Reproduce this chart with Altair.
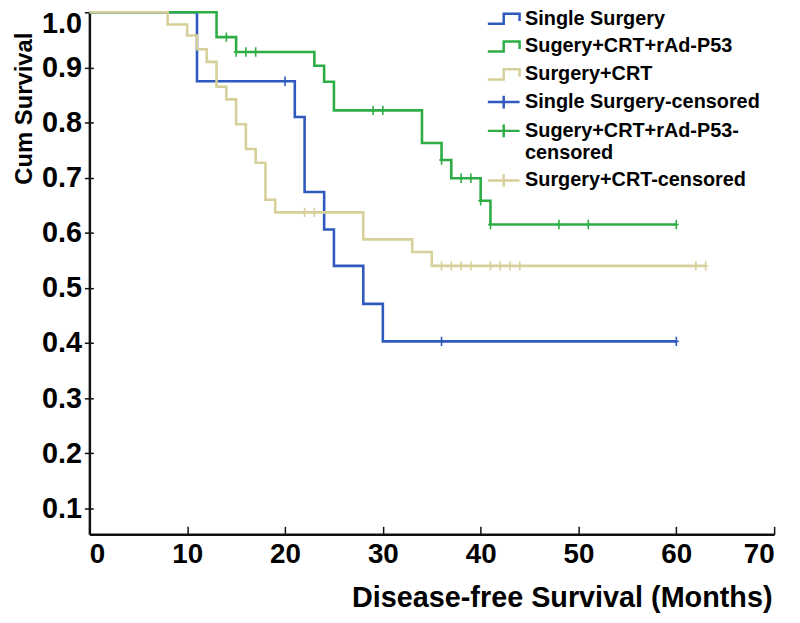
import altair as alt
import pandas as pd

# ---------------- data ----------------
groups = ["Single Surgery", "Sugery+CRT+rAd-P53", "Surgery+CRT"]
colors = ["#2f59be", "#2ead45", "#d8d09a"]

ss_time = [0, 11, 21, 22, 24, 25, 28, 30, 60]
ss_surv = [1.0, 0.875, 0.81, 0.674, 0.606, 0.54, 0.471, 0.403, 0.403]
ss_cens_time = [20, 36, 60]
ss_cens_surv = [0.875, 0.403, 0.403]

gp_time = [0, 13, 15, 23, 24, 25, 34, 36, 37, 40, 41, 60]
gp_surv = [1.0, 0.955, 0.928, 0.903, 0.874, 0.822, 0.763, 0.732, 0.699, 0.658, 0.615, 0.615]
gp_cens_time = [14, 15, 16, 17, 29, 30, 36, 38, 39, 40, 41, 48, 51, 60]
gp_cens_surv = [0.955, 0.928, 0.928, 0.928, 0.822, 0.822, 0.732, 0.699, 0.699, 0.658,
                0.615, 0.615, 0.615, 0.615]

sc_time = [0, 8, 10, 11, 12, 13, 14, 15, 16, 17, 18, 19, 28, 33, 35, 63]
sc_surv = [1.0, 0.978, 0.958, 0.933, 0.91, 0.865, 0.842, 0.797, 0.752, 0.727, 0.66, 0.637,
           0.588, 0.565, 0.54, 0.54]
sc_cens_time = [22, 23, 36, 37, 38, 39, 41, 42, 43, 44, 62, 63]
sc_cens_surv = [0.637, 0.637, 0.54, 0.54, 0.54, 0.54, 0.54, 0.54, 0.54, 0.54, 0.54, 0.54]

x_ticks = [0, 10, 20, 30, 40, 50, 60, 70]
y_ticks = [0.1, 0.2, 0.3, 0.4, 0.5, 0.6, 0.7, 0.8, 0.9, 1.0]

legend_keys = ["Single Surgery", "Sugery+CRT+rAd-P53", "Surgery+CRT",
               "Single Surgery-censored", "Sugery+CRT+rAd-P53-censored", "Surgery+CRT-censored"]

STEP = "M-1,0.32H0V-0.32H1V0.15"
PLUS = "M-1,0H1M0,-0.4V0.4"
legend_shapes = [STEP, STEP, STEP, PLUS, PLUS, PLUS]
legend_colors = colors + colors

# ---------------- tables ----------------
curve_rows = []
for g, t, s in [(groups[0], ss_time, ss_surv), (groups[1], gp_time, gp_surv), (groups[2], sc_time, sc_surv)]:
    for i, (a, b) in enumerate(zip(t, s)):
        curve_rows.append({"group": g, "month": a, "surv": b, "order": i})
curves = pd.DataFrame(curve_rows)

cens_rows = []
for g, t, s in [(groups[0], ss_cens_time, ss_cens_surv), (groups[1], gp_cens_time, gp_cens_surv),
                (groups[2], sc_cens_time, sc_cens_surv)]:
    for a, b in zip(t, s):
        cens_rows.append({"group": g, "month": a, "surv": b})
cens = pd.DataFrame(cens_rows)

legend_df = pd.DataFrame({"key": legend_keys, "month": [-50] * 6, "surv": [0.5] * 6})
anchor_df = pd.DataFrame({"month": [0], "surv": [1.0]})

FONT = "Liberation Sans"
xscale = alt.Scale(domain=[0, 70], nice=False)
yscale = alt.Scale(domain=[0.053, 1.0], nice=False, zero=False)
stroke_scale = alt.Scale(domain=groups, range=colors)

curve_layer = alt.Chart(curves).mark_line(interpolate="step-after", strokeWidth=2.6).encode(
    x=alt.X("month:Q", scale=xscale, axis=alt.Axis(
        orient="bottom", values=x_ticks, ticks=False, grid=False,
        domainColor="#111", domainWidth=2.5,
        labelFont=FONT, labelFontSize=28, labelFontWeight="bold", labelColor="#000",
        labelPadding=6,
        title="Disease-free Survival (Months)", titleFont=FONT, titleFontSize=29,
        titleFontWeight="bold", titleColor="#000", titleX=476, titleY=64,
        titleAlign="center", titleBaseline="middle")),
    y=alt.Y("surv:Q", scale=yscale, axis=alt.Axis(
        orient="left", values=y_ticks, format=".1f", grid=False,
        tickSize=5, tickWidth=1.5, tickColor="#111",
        domainColor="#111", domainWidth=2.5,
        labelFont=FONT, labelFontSize=29, labelFontWeight="bold", labelColor="#000",
        labelPadding=3, labelFlush=True, labelFlushOffset=3,
        title="Cum Survival", titleFont=FONT, titleFontSize=24, titleFontWeight="bold",
        titleColor="#000", titleX=-65, titleY=20, titleAngle=270,
        titleAlign="right", titleBaseline="middle")),
    stroke=alt.Stroke("group:N", scale=stroke_scale, legend=None),
    order="order:Q",
)

cens_layer = alt.Chart(cens).mark_point(
    shape="M-0.5,0H0.5M0,-1V1", size=90, filled=False, strokeWidth=1.6, opacity=1
).encode(
    x=alt.X("month:Q", scale=xscale, axis=None),
    y=alt.Y("surv:Q", scale=yscale, axis=None),
    stroke=alt.Stroke("group:N", scale=stroke_scale, legend=None),
)

legend_layer = alt.Chart(legend_df).mark_point(filled=False, clip=True, strokeWidth=2.5).encode(
    x=alt.X("month:Q", scale=xscale, axis=None),
    y=alt.Y("surv:Q", scale=yscale, axis=None),
    color=alt.Color("key:N", scale=alt.Scale(domain=legend_keys, range=legend_colors),
                    legend=alt.Legend(
                        title=None, orient="none", legendX=400, legendY=-11, padding=0,
                        labelFont=FONT, labelFontSize=20, labelFontWeight="bold",
                        labelColor="#000", labelLimit=500, labelOffset=4, rowPadding=0,
                        symbolSize=1024, symbolStrokeWidth=2.5, symbolOpacity=1,
                        symbolFillColor="transparent",
                        labelExpr="datum.label == 'Sugery+CRT+rAd-P53-censored' ? "
                                  "['Sugery+CRT+rAd-P53-', 'censored'] : datum.label")),
    shape=alt.Shape("key:N", scale=alt.Scale(domain=legend_keys, range=legend_shapes)),
)

tick_layer = alt.Chart(anchor_df).mark_point(opacity=0).encode(
    x=alt.X("month:Q", scale=xscale, axis=alt.Axis(
        orient="top", offset=-526, values=x_ticks, labels=False, domain=False,
        grid=False, tickSize=8, tickWidth=1.5, tickColor="#111", title=None)),
    y=alt.Y("surv:Q", scale=yscale, axis=alt.Axis(
        orient="right", offset=-690, values=y_ticks, labels=False, domain=False,
        grid=False, tickSize=4, tickWidth=1.5, tickColor="#111", title=None)),
)

chart = alt.layer(curve_layer, cens_layer, legend_layer, tick_layer).properties(
    width=690, height=526,
    autosize=alt.AutoSizeParams(type="none"),
    padding={"left": 82, "top": 2, "right": 18, "bottom": 79},
    background="white",
).configure_view(stroke=None)

chart.save("out.html", embed_options={"renderer": "svg", "actions": False})
